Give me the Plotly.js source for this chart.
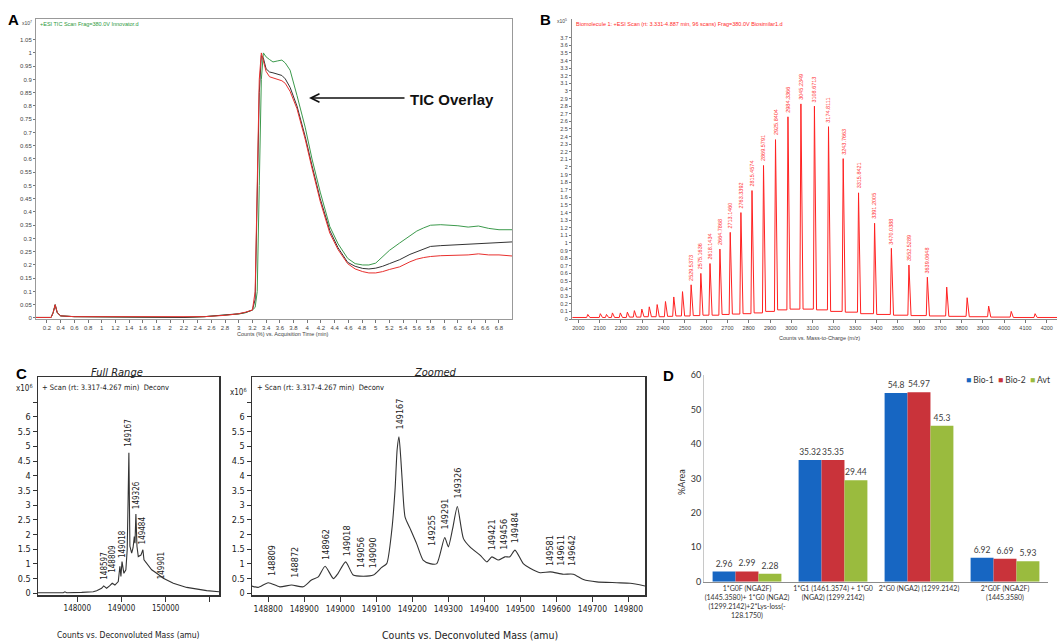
<!DOCTYPE html>
<html><head><meta charset="utf-8">
<script src="https://cdn.plot.ly/plotly-3.0.1.min.js"></script>
<style>html,body{margin:0;padding:0;background:#fff}#chart{width:1057px;height:641px}</style>
</head><body><div id="chart"></div>
<script>
// ---------- Panel A: TIC overlay ----------
const ticTime  = [0.04,0.26,0.29,0.32,0.35,0.40,0.6,1.0,1.5,2.0,2.2,2.5,2.8,3.0,3.1,3.2,3.24,3.27,3.3,3.33,3.36,3.4,3.45,3.5,3.57,3.63,3.68,3.75,3.85,3.97,4.07,4.19,4.33,4.45,4.59,4.7,4.81,4.9,5.0,5.1,5.2,5.35,5.5,5.6,5.7,5.8,5.95,6.1,6.2,6.35,6.5,6.65,6.8,6.99];
const ticGreen = [0.002,0.002,0.02,0.05,0.02,0.008,0.005,0.004,0.004,0.003,0.002,0.005,0.01,0.015,0.02,0.03,0.04,0.1,0.5,0.9,1.0,0.985,0.975,0.966,0.97,0.973,0.962,0.935,0.84,0.72,0.6,0.475,0.345,0.28,0.225,0.205,0.2,0.2,0.207,0.23,0.255,0.283,0.31,0.328,0.34,0.35,0.352,0.35,0.348,0.343,0.347,0.338,0.333,0.333];
const ticBlack = [0.002,0.002,0.02,0.05,0.02,0.008,0.005,0.004,0.004,0.003,0.002,0.005,0.01,0.016,0.021,0.03,0.07,0.4,0.85,0.99,0.98,0.94,0.928,0.925,0.92,0.915,0.902,0.87,0.8,0.685,0.575,0.45,0.33,0.265,0.21,0.195,0.187,0.185,0.188,0.195,0.205,0.22,0.24,0.25,0.262,0.27,0.273,0.275,0.278,0.28,0.28,0.282,0.284,0.287];
const ticRed   = [0.002,0.002,0.02,0.05,0.02,0.008,0.005,0.005,0.004,0.004,0.003,0.005,0.01,0.016,0.022,0.03,0.1,0.5,0.9,1.0,0.97,0.93,0.91,0.906,0.9,0.895,0.885,0.855,0.79,0.675,0.565,0.44,0.32,0.258,0.205,0.185,0.175,0.17,0.17,0.175,0.183,0.193,0.212,0.222,0.228,0.232,0.235,0.236,0.237,0.238,0.242,0.238,0.238,0.234];
const aYTicks  = [0,0.05,0.1,0.15,0.2,0.25,0.3,0.35,0.4,0.45,0.5,0.55,0.6,0.65,0.7,0.75,0.8,0.85,0.9,0.95,1,1.05];

// ---------- Panel B: charge-state envelope ----------
const bPeakMz  = [2044,2103,2132,2160,2197,2230,2263,2298,2333,2370,2409,2448,2489,
  2529.5373,2575.1636,2618.1434,2664.7868,2713.1460,2763.3392,2815.4574,2869.5791,2925.8404,2984.3366,3045.2349,3108.6713,3174.8111,3243.7663,3315.8421,3391.2005,3470.0388,3552.5289,3639.0648,
  3730,3826,3927,4033,4145];
const bPeakInt = [0.06,0.07,0.06,0.08,0.08,0.09,0.11,0.13,0.16,0.19,0.23,0.29,0.36,
  0.45,0.60,0.73,0.92,1.14,1.40,1.69,2.02,2.36,2.66,2.83,2.80,2.53,2.11,1.66,1.26,0.93,0.71,0.55,
  0.42,0.28,0.17,0.10,0.07];
const bBase    = [0.02,0.02,0.02,0.02,0.02,0.025,0.025,0.03,0.03,0.03,0.035,0.04,0.04,
  0.045,0.05,0.05,0.06,0.065,0.07,0.08,0.1,0.12,0.13,0.13,0.12,0.1,0.09,0.07,0.06,0.05,0.045,0.04,
  0.035,0.03,0.025,0.02,0.02];
const bPeakLabel = ['','','','','','','','','','','','','',
  '2529.5373','2575.1636','2618.1434','2664.7868','2713.1460','2763.3392','2815.4574','2869.5791','2925.8404','2984.3366','3045.2349','3108.6713','3174.8111','3243.7663','3315.8421','3391.2005','3470.0388','3552.5289','3639.0648',
  '','','','',''];
const bYTicks = [0,0.1,0.2,0.3,0.4,0.5,0.6,0.7,0.8,0.9,1,1.1,1.2,1.3,1.4,1.5,1.6,1.7,1.8,1.9,2,2.1,2.2,2.3,2.4,2.5,2.6,2.7,2.8,2.9,3,3.1,3.2,3.3,3.4,3.5,3.6,3.7];

// ---------- Panel C: deconvoluted mass ----------
const cFullMass = [147111,147500,147683,147720,147760,148100,148361,148438,148474,148550,148597,148663,148730,148790,148851,148927,148964,148987,149012,149054,149099,149129,149150,149167,149190,149230,149262,149290,149305,149326,149350,149380,149440,149484,149509,149570,149683,149796,149946,150172,150475,150927,151206];
const cFullInt  = [0.02,0.02,0.02,0.05,0.02,0.03,0.05,0.09,0.11,0.17,0.25,0.17,0.25,0.34,0.28,0.4,0.92,0.57,1.08,0.68,0.8,1.48,3.2,4.78,1.6,1.37,1.55,1.93,1.7,2.7,1.6,1.25,1.3,1.48,1.14,1.02,0.8,0.68,0.51,0.34,0.2,0.09,0.05];
const cFullLabels = ['148597','148809','149018','149167','149326','149484','149901'];
const cFullLabelY = [0.4,0.63,1.14,4.93,2.79,1.59,0.4];

const cZoomMass = [148754,148772,148800,148832,148865,148897,148920,148939,148958,148981,148994,149015,149036,149064,149092,149115,149129,149143,149152,149158,149163,149168,149172,149180,149194,149212,149230,149249,149268,149290,149300,149312,149325,149342,149360,149388,149407,149421,149439,149457,149471,149485,149508,149527,149555,149583,149619,149647,149675,149712,149768,149805,149846];
const cZoomInt  = [0.25,0.2,0.36,0.22,0.28,0.22,0.45,0.56,0.92,0.5,0.68,1.07,0.62,0.58,0.62,0.88,1.01,2.14,3.5,4.9,5.32,4.6,3.83,2.59,2.2,1.69,1.13,1.01,1.01,1.9,1.58,2.2,2.95,1.86,1.58,1.3,1.07,1.24,1.13,1.24,1.24,1.47,1.01,0.85,0.7,0.73,0.65,0.65,0.47,0.39,0.36,0.34,0.25];
const cZoomLabels = ['148809','148872','148962','149018','149056','149090','149167','149255','149291','149326','149421','149456','149484','149581','149611','149642'];
const cZoomLabelY = [0.52,0.45,1.07,1.2,0.79,0.79,5.5,1.53,2.09,3.16,1.41,1.41,1.64,0.86,0.86,0.86];
const cTickVals = [0,0.5,1,1.5,2,2.5,3,3.5,4,4.5,5,5.5,6,6.5];
const cTickText = ['0','0.5','1','1.5','2','2.5','3','3.5','4','4.5','5','5.5','6',''];
const cFullXTicks = [148000,149000,150000,151000];
const cFullXText  = ['148000','149000','150000',''];

// ---------- Panel D: glycoform %Area ----------
const dCategories = [
  '1*G0F (NGA2F)<br>(1445.3580)+ 1*G0 (NGA2)<br>(1299.2142)+2*Lys-loss(-<br>128.1750)',
  '1*G1 (1461.3574) + 1*G0<br>(NGA2) (1299.2142)',
  '2*G0 (NGA2) (1299.2142)',
  '2*G0F (NGA2F)<br>(1445.3580)'];
const dBio1 = [2.96,35.32,54.8,6.92];
const dBio2 = [2.99,35.35,54.97,6.69];
const dAvt  = [2.28,29.44,45.3,5.93];
const dSeries = ['Bio-1','Bio-2','Avt'];

// ---------- layout helpers ----------
const W = 1057, H = 641;
const fx = p => p / W, fy = p => 1 - p / H;
const SANS = 'Liberation Sans, Arial, sans-serif';
const NARROW = 'Liberation Sans Narrow, DejaVu Sans Condensed, Liberation Sans, Arial, sans-serif';
const CAL = 'Lato, Open Sans, sans-serif';
const dColors = ['#1766C2','#C9333A','#9ABB3E'];

// B spectrum profile from peaks and baseline
const bx = [1972], by = [bBase[0]];
let prevBase = bBase[0];
for (let i = 0; i < bPeakMz.length; i++) {
  bx.push(bPeakMz[i] - 5, bPeakMz[i], bPeakMz[i] + 10);
  by.push(prevBase, bPeakInt[i], bBase[i]);
  prevBase = bBase[i];
}
bx.push(4248); by.push(prevBase);

const traces = [
  {x: ticTime, y: ticGreen, xaxis:'x', yaxis:'y', mode:'lines', line:{color:'#3c9a4c', width:1}},
  {x: ticTime, y: ticBlack, xaxis:'x', yaxis:'y', mode:'lines', line:{color:'#333333', width:1}},
  {x: ticTime, y: ticRed,   xaxis:'x', yaxis:'y', mode:'lines', line:{color:'#e8302e', width:1}},
  {x: bx, y: by, xaxis:'x2', yaxis:'y2', mode:'lines', line:{color:'#ff2222', width:1}},
  {x: cFullMass, y: cFullInt, xaxis:'x3', yaxis:'y3', mode:'lines', line:{color:'#333', width:1.1}},
  {x: cZoomMass, y: cZoomInt, xaxis:'x4', yaxis:'y4', mode:'lines', line:{color:'#333', width:1.1, shape:'spline', smoothing:0.6}},
];
[dBio1, dBio2, dAvt].forEach((vals, k) => traces.push({
  type:'bar', name: dSeries[k], x: dCategories, y: vals, xaxis:'x5', yaxis:'y5',
  marker:{color: dColors[k]}, text: vals.map(String), textposition:'outside',
  textfont:{family: CAL, size:8.5, color:'#404040'}, constraintext:'none', cliponaxis:false
}));

const smallTick = (sz) => ({family: SANS, size: sz, color:'#444'});
const ann = [];
const add = (o) => ann.push(Object.assign({xref:'paper', yref:'paper', showarrow:false, xanchor:'center', yanchor:'middle'}, o));

// panel letters
[['A',13,20],['B',545,20],['C',21,373],['D',668,375]].forEach(([t,x,y]) =>
  add({text:'<b>'+t+'</b>', x:fx(x), y:fy(y), font:{family:SANS, size:15, color:'#000'}}));

// Panel A texts
add({text:'x10<sup>7</sup>', x:fx(27), y:fy(23), font:smallTick(5)});
add({text:'+ESI TIC Scan Frag=380.0V Innovator.d', x:fx(38), y:fy(24), xanchor:'left', font:{family:SANS, size:5.5, color:'#2e9a40'}});
add({text:'<b>TIC Overlay</b>', x:fx(452), y:fy(99), font:{family:SANS, size:15, color:'#111'}});
add({text:'', x:fx(309), y:fy(98), showarrow:true, ax:97, ay:0, arrowhead:5, arrowsize:1.3, arrowwidth:1.3, arrowcolor:'#111'});
add({text:'Counts (%) vs. Acquisition Time (min)', x:fx(283), y:fy(334), font:smallTick(5.5)});

// Panel B texts
add({text:'x10<sup>5</sup>', x:fx(562), y:fy(21), font:smallTick(5)});
add({text:'Biomolecule 1: +ESI Scan (rt: 3.331-4.887 min, 96 scans) Frag=380.0V Biosimilar1.d', x:fx(574), y:fy(24), xanchor:'left', font:{family:SANS, size:5.5, color:'#ff2a2a'}});
add({text:'Counts vs. Mass-to-Charge (m/z)', x:fx(819), y:fy(338), font:smallTick(5.5)});
bPeakMz.forEach((mz, i) => { if (bPeakLabel[i]) ann.push({xref:'x2', yref:'y2', x:mz, y:bPeakInt[i], text:bPeakLabel[i],
  showarrow:false, textangle:-90, xanchor:'center', yanchor:'bottom', yshift:2, font:{family:SANS, size:5.5, color:'#ff3333'}}); });

// Panel C texts
add({text:'<i>Full Range</i>', x:fx(117), y:fy(372), font:{family:NARROW, size:11, color:'#222'}});
add({text:'<i>Zoomed</i>', x:fx(435), y:fy(372), font:{family:NARROW, size:11, color:'#222'}});
add({text:'+ Scan (rt: 3.317-4.267 min)  Deconv', x:fx(40), y:fy(387), xanchor:'left', font:{family:NARROW, size:7.5, color:'#222'}});
add({text:'+ Scan (rt: 3.317-4.267 min)  Deconv', x:fx(255), y:fy(387), xanchor:'left', font:{family:NARROW, size:7.5, color:'#222'}});
add({text:'x10<sup>6</sup>', x:fx(35), y:fy(388), xanchor:'right', font:{family:NARROW, size:8, color:'#222'}});
add({text:'x10<sup>6</sup>', x:fx(249), y:fy(392), xanchor:'right', font:{family:NARROW, size:8, color:'#222'}});
add({text:'Counts vs. Deconvoluted Mass (amu)', x:fx(128), y:fy(635), font:{family:NARROW, size:8.5, color:'#222'}});
add({text:'Counts vs. Deconvoluted Mass (amu)', x:fx(470), y:fy(635), font:{family:NARROW, size:10.5, color:'#222'}});
cFullLabels.forEach((t, i) => ann.push({xref:'x3', yref:'y3', x:+t, y:cFullLabelY[i], text:t, showarrow:false,
  textangle:-90, xanchor:'center', yanchor:'bottom', font:{family:NARROW, size:8, color:'#222'}}));
cZoomLabels.forEach((t, i) => ann.push({xref:'x4', yref:'y4', x:+t, y:cZoomLabelY[i], text:t, showarrow:false,
  textangle:-90, xanchor:'center', yanchor:'bottom', font:{family:NARROW, size:9, color:'#222'}}));

// Panel D texts
add({text:'%Area', x:fx(681), y:fy(482), textangle:-90, font:{family:CAL, size:9, color:'#333'}});
add({text:'<span style="color:'+dColors[0]+'">■</span> Bio-1  <span style="color:'+dColors[1]+'">■</span> Bio-2  <span style="color:'+dColors[2]+'">■</span> Avt',
  x:fx(1052), y:fy(380), xanchor:'right', font:{family:CAL, size:8.5, color:'#333'}});

const cY = (dom) => ({domain: dom, range:[-0.058, 7.357], tickvals:cTickVals, ticktext:cTickText,
  ticks:'outside', ticklen:4, tickcolor:'#333', showline:true, mirror:true, linecolor:'#333', linewidth:1.5,
  showgrid:false, zeroline:false, tickfont:{family:NARROW, size:9, color:'#222'}});

const layout = {
  width: W, height: H, margin:{l:0, r:0, t:0, b:0}, showlegend:false,
  paper_bgcolor:'#fff', plot_bgcolor:'#fff', hovermode:false,
  font:{family:SANS},
  barmode:'group', bargap:0.2, bargroupgap:0,
  xaxis:{domain:[fx(36), fx(512)], range:[0.04, 6.99], anchor:'y', tick0:0.2, dtick:0.2, tickangle:0,
    ticks:'outside', ticklen:3, tickcolor:'#777', showline:true, mirror:true, linecolor:'#999',
    showgrid:false, zeroline:false, tickfont:smallTick(6)},
  yaxis:{domain:[fy(319), fy(19)], range:[-0.0038, 1.128], anchor:'x', tickvals:aYTicks,
    ticks:'outside', ticklen:2, tickcolor:'#777', showline:true, mirror:true, linecolor:'#999',
    showgrid:false, zeroline:false, tickfont:smallTick(6)},
  xaxis2:{domain:[fx(572), 1], range:[1970, 4248], anchor:'y2', tick0:2000, dtick:100, tickangle:0,
    ticks:'outside', ticklen:3, tickcolor:'#777', showline:true, linecolor:'#888',
    showgrid:false, zeroline:false, tickfont:smallTick(5.5), tickformat:'d'},
  yaxis2:{domain:[fy(319), fy(19)], range:[0, 3.947], anchor:'x2', tickvals:bYTicks,
    ticks:'outside', ticklen:2, tickcolor:'#777', showline:true, linecolor:'#888',
    showgrid:false, zeroline:false, tickfont:smallTick(5.5)},
  xaxis3:{domain:[fx(38), fx(219)], range:[147111, 151206], anchor:'y3', tickvals:cFullXTicks, ticktext:cFullXText,
    ticks:'outside', ticklen:5, tickcolor:'#333', showline:true, mirror:true, linecolor:'#333', linewidth:1.5,
    showgrid:false, zeroline:false, tickfont:{family:NARROW, size:8, color:'#222'}, tickangle:0},
  yaxis3: Object.assign(cY([fy(595), fy(377)]), {anchor:'x3'}),
  xaxis4:{domain:[fx(252), fx(645)], range:[148755, 149846], anchor:'y4', tick0:148800, dtick:100,
    ticks:'outside', ticklen:5, tickcolor:'#333', showline:true, mirror:true, linecolor:'#333', linewidth:1.5,
    showgrid:false, zeroline:false, tickfont:{family:NARROW, size:8.5, color:'#222'}, tickangle:0, tickformat:'d'},
  yaxis4: Object.assign(cY([fy(595), fy(377)]), {anchor:'x4'}),
  xaxis5:{domain:[fx(704), fx(1048)], anchor:'y5', type:'category', showline:true, linecolor:'#8c8c8c',
    ticks:'', showgrid:false, zeroline:false, tickangle:0, tickfont:{family:CAL, size:7, color:'#333'}},
  yaxis5:{domain:[fy(581.7), fy(375)], range:[0, 60], anchor:'x5', dtick:10, showline:true, linecolor:'#c8c8c8',
    ticks:'', showgrid:false, zeroline:false, tickfont:{family:CAL, size:9, color:'#333'}},
  annotations: ann
};

Plotly.newPlot('chart', traces, layout, {staticPlot:true, displayModeBar:false});
</script></body></html>
